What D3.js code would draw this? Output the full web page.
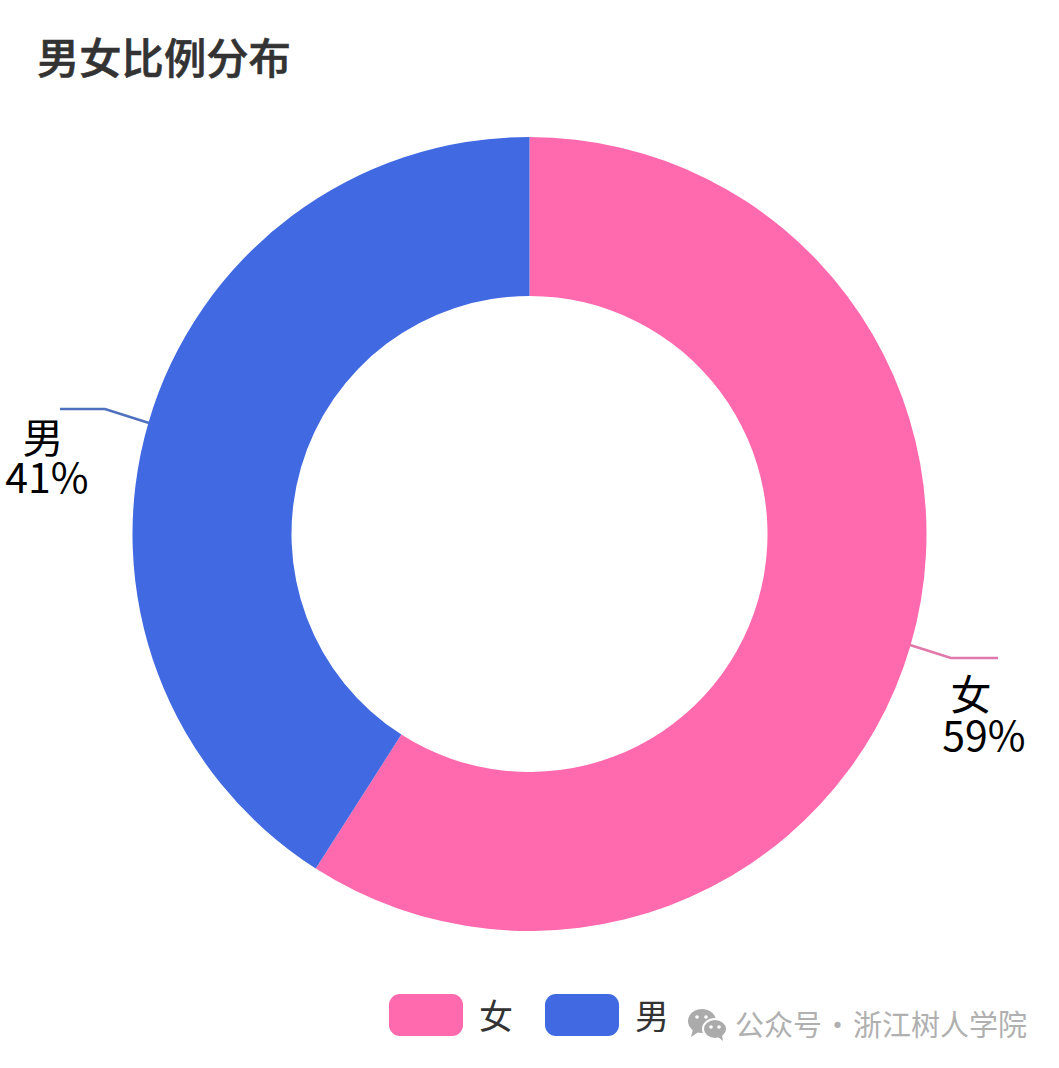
<!DOCTYPE html>
<html><head><meta charset="utf-8">
<script src="https://cdn.jsdelivr.net/npm/d3@7/dist/d3.min.js"></script>
<style>html,body{margin:0;padding:0;background:#fff;overflow:hidden}text{font-family:"Noto Sans CJK SC","Noto Sans",sans-serif}</style>
</head><body><svg id="c" width="1059" height="1068"></svg>
<script>
const categories=["女","男"];
const values=[59.05,40.95];
const colors=["#ff69ae","#4169e1"];
const labelLines=["#e078ab","#4f6fbf"];
const titleText="男女比例分布";
const watermark="公众号 · 浙江树人学院";
const svg=d3.select("#c");
const cx=529.5,cy=534,R=397,r=238;
svg.append("text").attr("x",37).attr("y",74).attr("font-size",42.3).attr("font-weight",500).attr("stroke","#333").attr("stroke-width",0.6).attr("fill","#333").text(titleText);
const pie=d3.pie().sort(null).value(d=>d)(values);
const arc=d3.arc().innerRadius(r).outerRadius(R);
const g=svg.append("g").attr("transform",`translate(${cx},${cy})`);
g.selectAll("path").data(pie).join("path").attr("d",arc).attr("fill",(d,i)=>colors[i]);
const lbl=[{p:[[910,645],[951,658],[998,658]],tx:971,ty:710,px:984,py:751},{p:[[149,423],[105,409],[60,409]],tx:43,ty:453,px:47,py:493}];
const line=d3.line();
lbl.forEach((l,i)=>{
 svg.append("path").attr("d",line(l.p)).attr("fill","none").attr("stroke",labelLines[i]).attr("stroke-width",2.4);
 const t=svg.append("text").attr("text-anchor","middle").attr("font-size",41).attr("fill","#000");
 t.append("tspan").attr("x",l.tx).attr("y",l.ty).text(categories[i]);
 t.append("tspan").attr("x",l.px).attr("y",l.py).text(Math.round(values[i])+"%");
});
const lx=[389,545],tx=[479,635];
categories.forEach((c,i)=>{
 svg.append("rect").attr("x",lx[i]).attr("y",994).attr("width",74).attr("height",42).attr("rx",11).attr("fill",colors[i]);
 svg.append("text").attr("x",tx[i]).attr("y",1029).attr("font-size",34).attr("fill","#333").text(c);
});
svg.append("text").attr("x",735).attr("y",1036).attr("font-size",29).attr("word-spacing",-5.5).attr("fill","#b0b0b0").text(watermark);
const wm=svg.append("g");
wm.append("ellipse").attr("cx",702).attr("cy",1021).attr("rx",14).attr("ry",12).attr("fill","#ababab");
wm.append("path").attr("d",d3.line()([[693,1029],[691,1037],[700,1031]])).attr("fill","#ababab");
wm.append("ellipse").attr("cx",715).attr("cy",1029).attr("rx",12).attr("ry",10).attr("fill","#ababab").attr("stroke","#fff").attr("stroke-width",2);
wm.append("path").attr("d",d3.line()([[718,1037],[723,1041],[722,1035]])).attr("fill","#ababab");
[[697,1017],[706,1017],[711,1027],[719,1027]].forEach(p=>wm.append("circle").attr("cx",p[0]).attr("cy",p[1]).attr("r",1.8).attr("fill","#fff"));
</script></body></html>
